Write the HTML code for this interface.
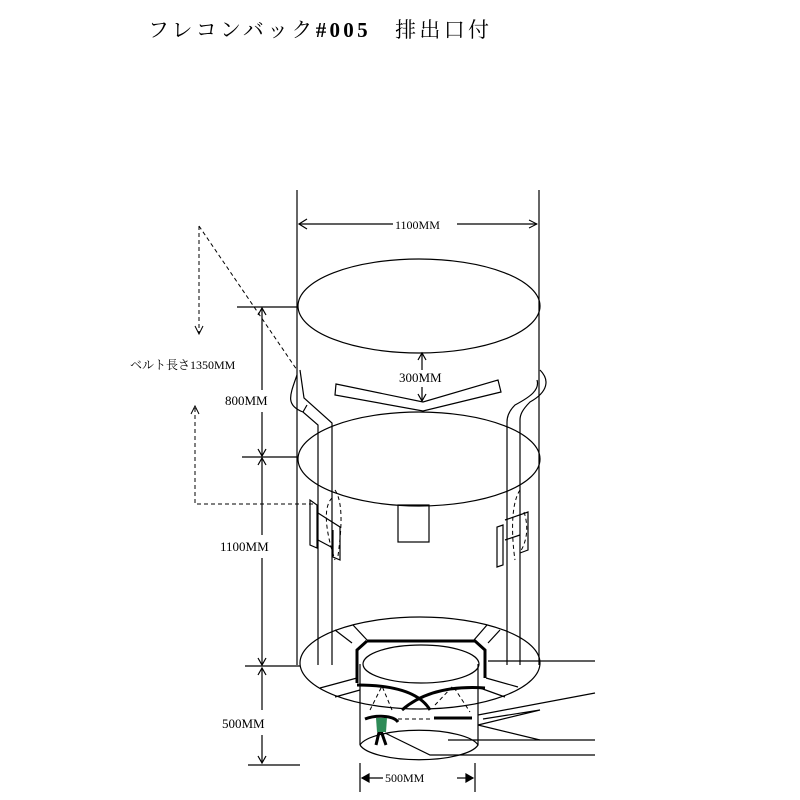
<!DOCTYPE html>
<html><head><meta charset="utf-8"><style>
html,body{margin:0;padding:0;background:#fff;width:800px;height:800px;overflow:hidden}
svg{display:block}
text{font-family:"Liberation Serif","Noto Serif CJK SC",serif;fill:#000}
</style></head><body>
<svg width="800" height="800" viewBox="0 0 800 800" xmlns="http://www.w3.org/2000/svg">
<defs>
<marker id="ah" markerWidth="10" markerHeight="10" refX="9" refY="5" orient="auto" markerUnits="userSpaceOnUse">
<path d="M1,1 L9,5 L1,9" fill="none" stroke="#000" stroke-width="1"/></marker>
</defs>
<text x="148" y="37" font-size="21" letter-spacing="3" textLength="344" lengthAdjust="spacing">フレコンバック<tspan font-weight="bold">#005</tspan>　排出口付</text>
<g fill="none" stroke="#000" stroke-width="1.2">
<line x1="297" y1="190" x2="297" y2="665"/>
<line x1="539" y1="190" x2="539" y2="665"/>
<line x1="299" y1="224" x2="393" y2="224"/>
<line x1="457" y1="224" x2="537" y2="224" marker-end="url(#ah)"/>
<path d="M307,219 L299,224 L307,229"/>
<ellipse cx="419" cy="306" rx="121" ry="47"/>
<ellipse cx="419" cy="459" rx="121" ry="47"/>
<ellipse cx="420" cy="663" rx="120" ry="46"/>
<ellipse cx="421" cy="664" rx="58" ry="19"/>
<line x1="422" y1="370" x2="422" y2="354"/><path d="M418,360 L422,353 L426,360"/>
<line x1="422" y1="387" x2="422" y2="400"/><path d="M418,394 L422,401 L426,394"/>
<path d="M336,384 L423,402 L498,380 L501,392 L423,411 L335,395 Z"/>
<path d="M297,375 C290,395 285,405 303,412 L318,425 L318,665"/>
<path d="M300,370 L304,398 L332,423 L332,665"/>
<path d="M303,412 L307,405"/>
<path d="M540,370 C550,380 548,392 530,402 C522,410 520,415 520,420 L520,665"/>
<path d="M537,380 C540,390 530,397 515,405 C510,410 507,415 507,422 L507,665"/>
<line x1="237" y1="307" x2="297" y2="307"/>
<line x1="242" y1="457" x2="297" y2="457"/>
<line x1="245" y1="666" x2="300" y2="666"/>
<line x1="248" y1="765" x2="300" y2="765"/>
<line x1="262" y1="308" x2="262" y2="390"/><line x1="262" y1="412" x2="262" y2="456"/>
<path d="M258,315 L262,308 L266,315"/><path d="M258,449 L262,456 L266,449"/>
<line x1="262" y1="458" x2="262" y2="535"/><line x1="262" y1="558" x2="262" y2="665"/>
<path d="M258,465 L262,458 L266,465"/><path d="M258,658 L262,665 L266,658"/>
<line x1="262" y1="668" x2="262" y2="710"/><line x1="262" y1="735" x2="262" y2="763"/>
<path d="M258,675 L262,668 L266,675"/><path d="M258,756 L262,763 L266,756"/>
<line x1="360" y1="763" x2="360" y2="792"/><line x1="475" y1="763" x2="475" y2="792"/>
<line x1="362" y1="778" x2="383" y2="778"/><line x1="457" y1="778" x2="473" y2="778"/>
<path d="M369,774 L362,778 L369,782 Z" fill="#000"/><path d="M466,774 L473,778 L466,782 Z" fill="#000"/>
<rect x="398" y="505" width="31" height="37"/>
<path d="M310,500 L310,545 L317,548 L317,505 Z"/>
<path d="M318,513 L340,527 L340,560 L333,557 L333,530"/>
<path d="M318,540 L333,548"/>
<path d="M497,527 L497,567 L503,565 L503,525 Z"/>
<path d="M505,520 L528,512 L528,550 L520,553"/>
<path d="M505,540 L520,535"/>
<line x1="360" y1="664" x2="360" y2="745"/>
<line x1="478" y1="664" x2="478" y2="745"/>
<path d="M360,745 A60,18 0 0 0 478,745 A60,18 0 0 0 360,745"/>
<path d="M335,630 L352,643"/><path d="M353,625 L367,640"/>
<path d="M487,625 L474,640"/><path d="M500,630 L488,643"/>
<path d="M320,688 L357,678"/><path d="M335,697 L360,690"/>
<path d="M486,678 L518,687"/><path d="M480,688 L505,697"/>
<line x1="488" y1="661" x2="595" y2="661"/>
<path d="M478,715 L595,693"/>
<path d="M478,725 L540,710 L483,719"/>
<path d="M478,725 L540,740 L595,740"/>
<path d="M448,740 L540,740"/>
<path d="M385,733 L430,755 L595,755"/>
</g>
<g fill="none" stroke="#000" stroke-width="3">
<path d="M367,641 L357,650 L357,683"/>
<path d="M367,641 L475,641 L485,650 L485,678"/>
<path d="M357,685 C395,685 420,693 430,710"/>
<path d="M485,688 C455,686 425,690 402,710"/>
<path d="M365,719 C375,715 393,715 398,722"/>
<path d="M434,718 L472,718"/>
<path d="M376,745 L380,728 L386,745"/>
</g>
<path d="M376,718 L387,718 L386,732 L377,732 Z" fill="#2e8b57"/>
<g fill="none" stroke="#000" stroke-width="1" stroke-dasharray="4,3">
<path d="M199,226 L199,333"/><path d="M195,326 L199,334 L203,326" stroke-dasharray="none"/>
<path d="M199,226 L297,370"/>
<path d="M195,408 L195,504 L313,504"/><path d="M191,414 L195,406 L199,414" stroke-dasharray="none"/>
<path d="M398,719 L432,719"/>
<path d="M370,710 L382,686 L392,710"/><path d="M435,705 L453,686 L470,712"/>
<path d="M332,498 C320,510 330,545 335,560"/><path d="M335,490 C345,505 340,540 338,556"/>
<path d="M520,490 C510,505 512,540 515,560"/><path d="M524,512 C530,530 525,545 520,552"/>
</g>
<text x="130" y="369" font-size="12">ベルト長さ1350MM</text>
<text x="395" y="229" font-size="12">1100MM</text>
<text x="399" y="382" font-size="13">300MM</text>
<text x="225" y="405" font-size="13">800MM</text>
<text x="220" y="551" font-size="13">1100MM</text>
<text x="222" y="728" font-size="13">500MM</text>
<text x="385" y="782" font-size="12">500MM</text>
</svg>
</body></html>
